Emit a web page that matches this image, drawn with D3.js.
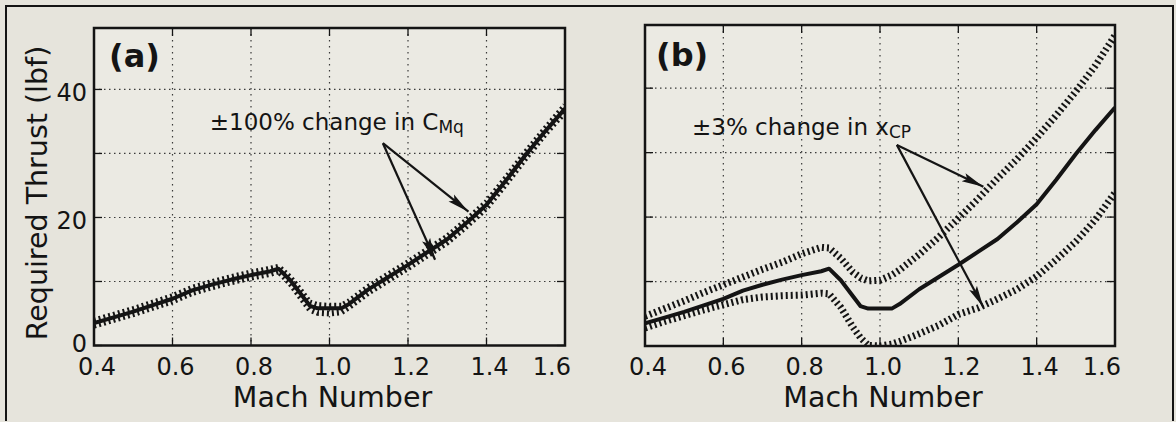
<!DOCTYPE html>
<html><head><meta charset="utf-8">
<script src="https://cdn.jsdelivr.net/npm/d3@7"></script>
<style>
body{margin:0;background:#e6e4dc}
svg{display:block}
text{font-family:"DejaVu Sans",sans-serif;fill:#141414}
</style></head><body>
<svg id="c" width="1176" height="422"></svg>
<script>
// ---- data ----
const mach = [0.40,0.45,0.50,0.55,0.60,0.65,0.70,0.75,0.80,0.85,0.87,0.90,0.93,0.95,0.97,1.00,1.03,1.05,1.10,1.15,1.20,1.25,1.30,1.35,1.40,1.45,1.50,1.55,1.60];
const nominal = [3.5,4.4,5.3,6.3,7.3,8.6,9.5,10.3,11.0,11.6,12.0,10.2,7.8,6.2,5.8,5.8,5.8,6.5,8.8,10.7,12.6,14.6,16.6,19.2,22.0,25.8,29.8,33.5,37.0];
// (a) +/-100% change in CMq
const upperA = [3.9,4.8,5.7,6.7,7.7,9.0,9.9,10.7,11.4,12.0,12.3,10.6,8.3,6.7,6.3,6.2,6.2,6.9,9.2,11.1,13.0,15.0,17.0,19.6,22.4,26.2,30.2,33.9,37.5];
const lowerA = [3.1,4.0,4.9,5.9,6.9,8.2,9.1,9.9,10.6,11.2,11.6,9.7,7.2,5.6,5.1,5.0,5.2,6.0,8.3,10.2,12.1,14.1,16.1,18.7,21.5,25.3,29.3,33.1,36.5];
// (b) +/-3% change in xCP
const upperB = [4.6,5.8,7.0,8.3,9.5,10.7,11.9,13.0,14.3,15.3,15.2,13.6,11.5,10.6,10.1,10.2,11.0,11.8,14.2,16.9,19.8,22.8,26.0,29.0,32.3,35.8,39.5,43.5,48.2];
const lowerB = [2.8,3.8,4.7,5.6,6.4,7.2,7.6,7.8,7.9,8.2,8.1,6.0,3.0,1.3,0.1,0.0,0.3,0.7,1.9,3.2,4.9,5.9,7.3,8.8,10.8,13.4,16.2,19.6,23.8];
const xTicks = [0.4,0.6,0.8,1.0,1.2,1.4,1.6];
const xTickLabels = ["0.4","0.6","0.8","1.0","1.2","1.4","1.6"];
const yTicks = [0,20,40];
const yTickLabels = ["0","20","40"];
const yGrid = [10,20,30,40];
const xLabel = "Mach Number";
const yLabel = "Required Thrust (lbf)";
const panelLabels = ["(a)","(b)"];

const svg = d3.select("#c");
const ink = "#141414";

// outer frame
svg.append("path").attr("d","M6,421 L6,6 L1173,6 L1173,421")
  .attr("fill","none").attr("stroke",ink).attr("stroke-width",2);

// arrow marker
const defs = svg.append("defs");
defs.append("marker").attr("id","ah").attr("markerUnits","userSpaceOnUse")
  .attr("markerWidth",24).attr("markerHeight",12).attr("refX",22).attr("refY",5)
  .attr("orient","auto").append("path").attr("d","M0,0.6 L22,5 L0,9.4 L4,5 Z").attr("fill",ink);

function panel(cfg){
  const x = d3.scaleLinear().domain([0.4,1.6]).range([cfg.left,cfg.right]);
  const y = d3.scaleLinear().domain([0,cfg.yMax]).range([cfg.bottom,cfg.top]);
  const g = svg.append("g");
  const clipId = "clip"+cfg.id;
  defs.append("clipPath").attr("id",clipId).append("rect")
    .attr("x",cfg.left).attr("y",cfg.top).attr("width",cfg.right-cfg.left).attr("height",cfg.bottom-cfg.top);
  g.append("rect").attr("x",cfg.left).attr("y",cfg.top).attr("width",cfg.right-cfg.left)
    .attr("height",cfg.bottom-cfg.top).attr("fill","#ebeae3");
  // grid
  g.selectAll(".vg").data(xTicks.slice(1,-1)).join("line")
    .attr("x1",d=>x(d)).attr("x2",d=>x(d)).attr("y1",cfg.top).attr("y2",cfg.bottom)
    .attr("stroke","#3a3a3a").attr("stroke-width",1.2).attr("stroke-dasharray","1.5,4.5");
  g.selectAll(".hg").data(yGrid).join("line")
    .attr("x1",cfg.left).attr("x2",cfg.right).attr("y1",d=>y(d)).attr("y2",d=>y(d))
    .attr("stroke","#3a3a3a").attr("stroke-width",1.2).attr("stroke-dasharray","1.5,3.5");
  // inside ticks
  const tl = 8;
  xTicks.forEach(t=>{
    g.append("line").attr("x1",x(t)).attr("x2",x(t)).attr("y1",cfg.bottom).attr("y2",cfg.bottom-tl).attr("stroke",ink).attr("stroke-width",1.3);
    g.append("line").attr("x1",x(t)).attr("x2",x(t)).attr("y1",cfg.top).attr("y2",cfg.top+tl).attr("stroke",ink).attr("stroke-width",1.3);
  });
  yGrid.concat([0]).forEach(t=>{
    g.append("line").attr("x1",cfg.left).attr("x2",cfg.left+tl).attr("y1",y(t)).attr("y2",y(t)).attr("stroke",ink).attr("stroke-width",1.3);
    g.append("line").attr("x1",cfg.right).attr("x2",cfg.right-tl).attr("y1",y(t)).attr("y2",y(t)).attr("stroke",ink).attr("stroke-width",1.3);
  });
  // curves
  const line = d3.line().x((d,i)=>x(mach[i])).y(d=>y(d)).curve(d3.curveLinear);
  const cg = g.append("g").attr("clip-path",`url(#${clipId})`);
  cfg.hatched.forEach(arr=>{
    cg.append("path").attr("d",line(arr)).attr("fill","none").attr("stroke",ink)
      .attr("stroke-width",cfg.hatchW).attr("stroke-dasharray","2,3");
  });
  cg.append("path").attr("d",line(nominal)).attr("fill","none").attr("stroke",ink)
    .attr("stroke-width",4).attr("stroke-linejoin","round");
  // frame
  g.append("rect").attr("x",cfg.left).attr("y",cfg.top).attr("width",cfg.right-cfg.left)
    .attr("height",cfg.bottom-cfg.top).attr("fill","none").attr("stroke",ink).attr("stroke-width",2.5);
  // x tick labels
  g.selectAll(".xt").data(xTicks).join("text")
    .attr("x",(d,i)=> i===xTicks.length-1 ? x(d)+6 : x(d)+3)
    .attr("y",375).attr("text-anchor",(d,i)=> i===xTicks.length-1 ? "end":"middle")
    .attr("font-size",24).text((d,i)=>xTickLabels[i]);
  if(cfg.yLabels){
    g.selectAll(".yt").data(yTicks).join("text")
      .attr("x",cfg.left-7).attr("y",d=>y(d)+(d===0?6:12)).attr("text-anchor","end")
      .attr("font-size",24).text((d,i)=>yTickLabels[i]);
    g.append("text").attr("transform",`translate(47,193) rotate(-90)`)
      .attr("text-anchor","middle").attr("font-size",28.5).text(yLabel);
  }
  g.append("text").attr("x",(cfg.left+cfg.right)/2+3).attr("y",407).attr("text-anchor","middle")
    .attr("font-size",28.5).text(xLabel);
  g.append("text").attr("x",cfg.left+cfg.plx).attr("y",cfg.top+cfg.ply)
    .attr("font-family","'Liberation Sans',Arial,sans-serif").attr("font-weight","bold")
    .attr("font-size",32).text(cfg.label);
  // annotation
  const t = g.append("text").attr("x",x(cfg.note.m)).attr("y",y(cfg.note.t)).attr("font-size",23);
  t.append("tspan").text(cfg.note.main);
  t.append("tspan").attr("font-size",17).attr("dy",3).text(cfg.note.sub);
  cfg.arrows.forEach(a=>{
    g.append("line").attr("x1",x(cfg.origin[0])).attr("y1",y(cfg.origin[1]))
      .attr("x2",x(a[0])).attr("y2",y(a[1])).attr("stroke",ink).attr("stroke-width",2.2)
      .attr("marker-end","url(#ah)");
  });
}

panel({id:"a",left:94,right:565,top:28,bottom:345.5,yMax:49.6,label:panelLabels[0],plx:15,ply:39,
  hatched:[upperA,lowerA],hatchW:6,yLabels:true,
  note:{m:0.695,t:33.6,main:"\u00B1100% change in C",sub:"Mq"},
  origin:[1.136,31.6],arrows:[[1.269,13.4],[1.354,20.9]]});
panel({id:"b",left:645,right:1115,top:25,bottom:346,yMax:49.8,label:panelLabels[1],plx:11,ply:41,
  hatched:[upperB,lowerB],hatchW:7,yLabels:false,
  note:{m:0.52,t:32.8,main:"\u00B13% change in x",sub:"CP"},
  origin:[1.043,31.2],arrows:[[1.264,24.7],[1.264,6.0]]});
</script>
</body></html>
